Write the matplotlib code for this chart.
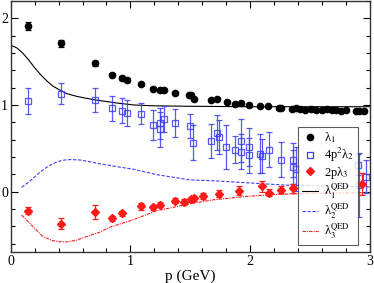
import numpy as np
import matplotlib
matplotlib.use('Agg')
import matplotlib.pyplot as plt
from matplotlib.ticker import MultipleLocator
from matplotlib.lines import Line2D

plt.rcParams['font.family'] = ['Liberation Serif', 'DejaVu Serif']
plt.rcParams['mathtext.fontset'] = 'stix'

# lambda_1 (black circles)
lam1_p = [0.145, 0.42, 0.70, 0.85, 0.93, 0.97, 1.09, 1.19, 1.25, 1.28, 1.37, 1.49, 1.51, 1.53,
          1.67, 1.72, 1.81, 1.87, 1.92, 1.99, 2.08, 2.15, 2.24, 2.26, 2.35, 2.38, 2.42, 2.46,
          2.51, 2.55, 2.60, 2.64, 2.68, 2.72, 2.76, 2.80, 2.88, 2.91, 2.95]
lam1_v = [1.91, 1.71, 1.48, 1.35, 1.31, 1.29, 1.24, 1.19, 1.17, 1.175, 1.14, 1.11, 1.12, 1.07,
          1.06, 1.065, 1.03, 1.01, 1.025, 1.00, 0.985, 0.99, 0.965, 0.96, 0.955, 0.96, 0.95, 0.945,
          0.95, 0.945, 0.945, 0.95, 0.945, 0.94, 0.935, 0.94, 0.925, 0.925, 0.93]
lam1_e = [0.05, 0.04, 0.03, 0.02, 0.02, 0.02, 0.015, 0.015, 0.015, 0.015, 0.015, 0.01, 0.01, 0.01,
          0.01, 0.01, 0.01, 0.01, 0.01, 0.01, 0.01, 0.01, 0.01, 0.01, 0.01, 0.01, 0.01, 0.01,
          0.01, 0.01, 0.01, 0.01, 0.01, 0.01, 0.01, 0.01, 0.01, 0.01, 0.01]

# 4 p^2 lambda_2 (blue open squares)
lam2_p = [0.145, 0.42, 0.70, 0.85, 0.93, 0.97, 1.09, 1.19, 1.25, 1.25, 1.28, 1.37, 1.50, 1.52,
          1.67, 1.72, 1.74, 1.80, 1.87, 1.92, 1.92, 1.99, 1.99, 2.08, 2.10, 2.16, 2.26,
          2.36, 2.36, 2.38, 2.90, 2.91, 2.97]
lam2_v = [1.05, 1.13, 1.06, 0.96, 0.935, 0.91, 0.90, 0.77, 0.79, 0.72, 0.84, 0.795, 0.76, 0.565,
          0.585, 0.68, 0.63, 0.515, 0.485, 0.59, 0.46, 0.515, 0.42, 0.44, 0.41, 0.485, 0.37,
          0.365, 0.285, 0.26, 0.31, 0.08, 0.17]
lam2_e = [0.15, 0.12, 0.14, 0.14, 0.14, 0.15, 0.125, 0.17, 0.18, 0.2, 0.15, 0.16, 0.14, 0.2,
          0.2, 0.2, 0.2, 0.25, 0.16, 0.25, 0.2, 0.22, 0.2, 0.22, 0.2, 0.2, 0.2,
          0.2, 0.2, 0.25, 0.12, 0.37, 0.19]

# 2 p lambda_3 (red diamonds)
lam3_p = [0.145, 0.42, 0.70, 0.85, 0.93, 1.09, 1.19, 1.25, 1.37, 1.45, 1.51, 1.53, 1.61,
          1.74, 1.91, 2.10, 2.16, 2.26, 2.36, 2.93]
lam3_v = [-0.22, -0.37, -0.24, -0.31, -0.25, -0.17, -0.18, -0.15, -0.105, -0.12, -0.09, -0.075,
          -0.05, -0.025, 0.01, 0.06, -0.01, 0.02, 0.04, 0.09]
lam3_e = [0.04, 0.06, 0.08, 0.03, 0.03, 0.04, 0.03, 0.03, 0.03, 0.03, 0.03, 0.03, 0.03,
          0.04, 0.05, 0.06, 0.04, 0.04, 0.05, 0.13]

# QED curves
q1_p = [0.0, 0.05, 0.1, 0.15, 0.2, 0.25, 0.3, 0.35, 0.4, 0.47, 0.55, 0.62, 0.70, 0.80, 0.90,
        1.03, 1.2, 1.5, 2.0, 2.5, 3.0]
q1_v = [1.69, 1.66, 1.60, 1.52, 1.43, 1.35, 1.28, 1.22, 1.18, 1.13, 1.10, 1.08, 1.06, 1.04, 1.02,
        1.0, 0.99, 0.985, 0.98, 0.98, 0.98]
q2_p = [0.092, 0.15, 0.2, 0.25, 0.3, 0.35, 0.4, 0.45, 0.5, 0.58, 0.66, 0.75, 0.9, 1.02, 1.22,
        1.5, 1.7, 2.0, 2.3, 2.6, 3.0]
q2_v = [0.05, 0.11, 0.17, 0.23, 0.28, 0.32, 0.35, 0.365, 0.37, 0.365, 0.345, 0.32, 0.285, 0.26,
        0.196, 0.135, 0.125, 0.10, 0.075, 0.065, 0.055]
q3_p = [0.092, 0.19, 0.27, 0.35, 0.40, 0.47, 0.55, 0.63, 0.74, 0.83, 1.02, 1.22, 1.5, 1.69,
        1.97, 2.25, 2.5, 3.0]
q3_v = [-0.27, -0.41, -0.52, -0.565, -0.577, -0.58, -0.56, -0.52, -0.47, -0.41, -0.326, -0.22,
        -0.14, -0.095, -0.055, -0.03, -0.02, -0.01]

blue = '#3c3cf5'
red = '#ff1a1a'
dash2 = (0, (3, 1.5))
dash3 = (0, (3, 1, 1, 1))

fig = plt.figure(figsize=(3.74, 2.83), dpi=100)
ax = fig.add_axes([0.0286, 0.1085, 0.9604, 0.888])

ax.plot(q1_p, q1_v, color='black', lw=0.8, zorder=2)
ax.plot(q2_p, q2_v, color=blue, lw=0.8, ls=dash2, zorder=2)
ax.plot(q3_p, q3_v, color=red, lw=0.8, ls=dash3, zorder=2)

ax.errorbar(lam2_p, lam2_v, yerr=lam2_e, fmt='s', ms=4.5, mfc='none', mec=blue, mew=0.9,
            ecolor=blue, elinewidth=0.9, capsize=2.5, capthick=0.9, alpha=0.85, zorder=3)
ax.errorbar(lam3_p, lam3_v, yerr=lam3_e, fmt='D', ms=4, mfc=red, mec=red,
            ecolor=red, elinewidth=0.9, capsize=2.5, capthick=0.9, zorder=4)
ax.errorbar(lam1_p, lam1_v, yerr=lam1_e, fmt='o', ms=4.5, mfc='black', mec='black',
            ecolor='black', elinewidth=0.9, capsize=2.5, capthick=0.9, zorder=5)

ax.set_xlim(0, 3)
ax.set_ylim(-0.7, 2.2)
ax.xaxis.set_major_locator(MultipleLocator(1))
ax.xaxis.set_minor_locator(MultipleLocator(0.2))
ax.yaxis.set_major_locator(MultipleLocator(1))
ax.yaxis.set_minor_locator(MultipleLocator(0.2))
ax.tick_params(which='both', direction='in', top=True, right=True, labelsize=10, pad=2)
ax.tick_params(which='major', length=5, width=0.8)
ax.tick_params(which='minor', length=3, width=0.8)
for s in ax.spines.values():
    s.set_linewidth(1.0)
    s.set_color('#333333')

ax.set_xlabel('p (GeV)', fontsize=11, labelpad=1)

handles = [
    Line2D([], [], ls='none', marker='o', ms=4.5, color='black'),
    Line2D([], [], ls='none', marker='s', ms=4.5, mfc='none', mec=blue, mew=0.9),
    Line2D([], [], ls='none', marker='D', ms=4, color=red),
    Line2D([], [], color='black', lw=0.8),
    Line2D([], [], color=blue, lw=0.8, ls=dash2),
    Line2D([], [], color=red, lw=0.8, ls=dash3),
]
labels = [r'λ$_1$', r'4p$^2$λ$_2$', r'2pλ$_3$',
          r'λ$_1^{\rm QED}$', r'λ$_2^{\rm QED}$', r'λ$_3^{\rm QED}$']
leg = ax.legend(handles, labels, loc='upper left', bbox_to_anchor=(0.80, 0.50),
                borderaxespad=0, fontsize=9, frameon=True, fancybox=False,
                edgecolor='#333333', handlelength=1.3, handletextpad=0.5,
                labelspacing=0.05, borderpad=0.3)
leg.get_frame().set_linewidth(0.8)

fig.savefig('out.png', dpi=100)
